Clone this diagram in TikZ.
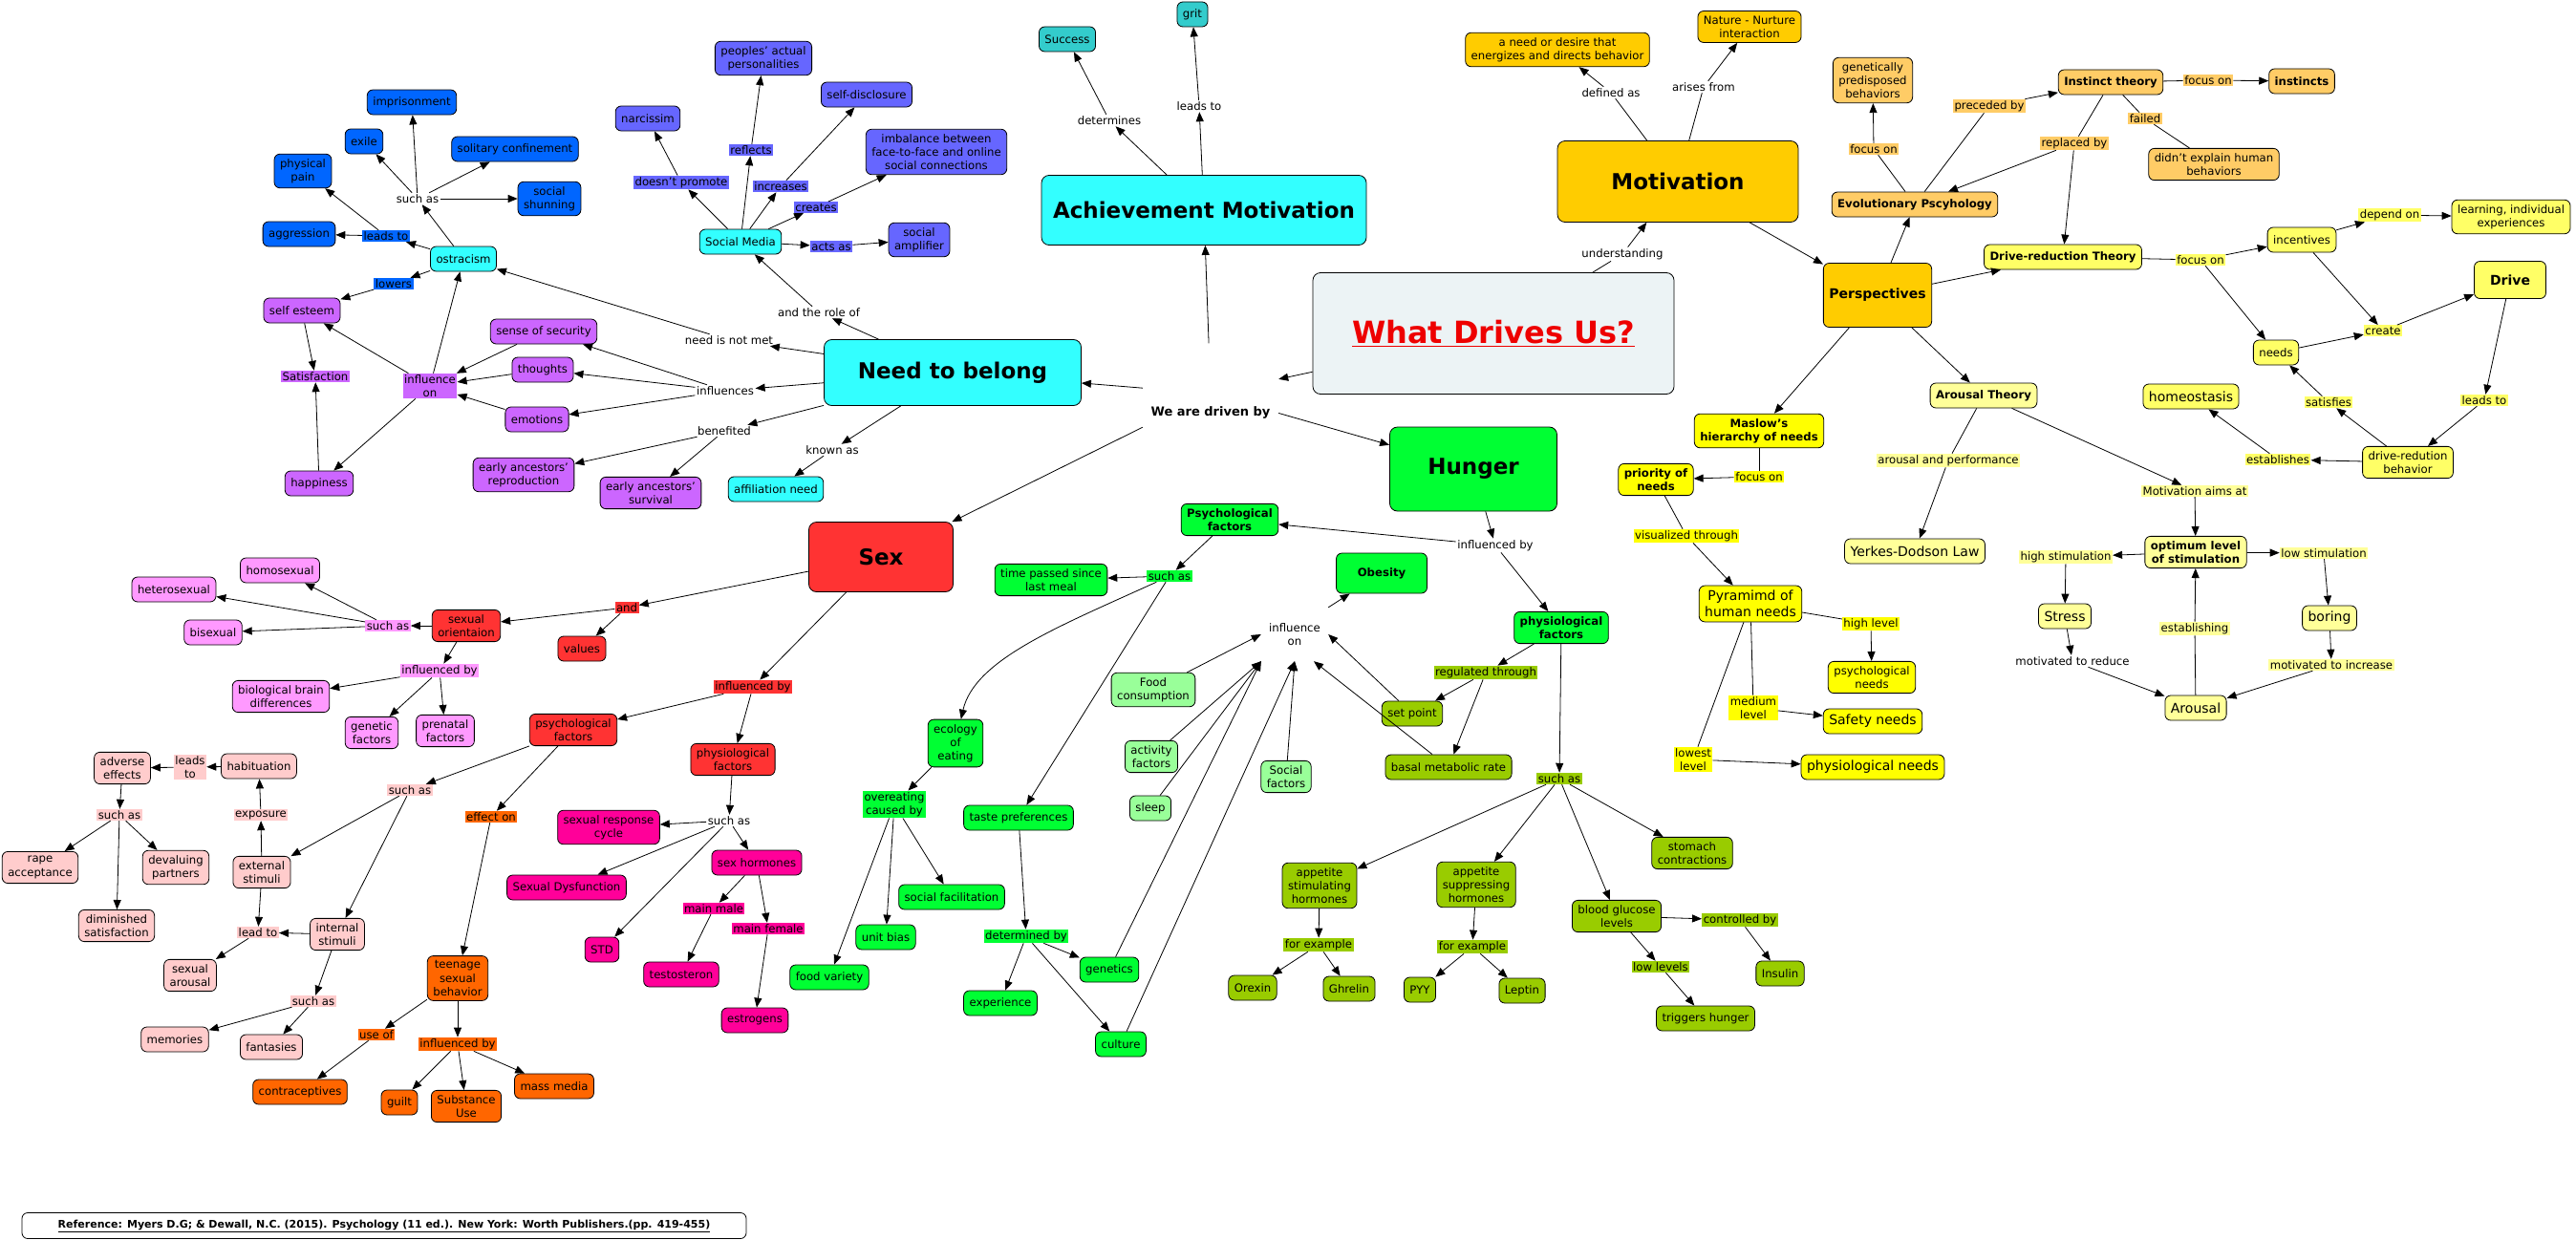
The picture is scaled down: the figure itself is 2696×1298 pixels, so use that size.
\documentclass[tikz,border=0pt]{standalone}
\usepackage{fontspec}
\setmainfont{DejaVu Sans}
\usepackage{tikz}
\usepackage{xcolor}
\usetikzlibrary{arrows.meta}

\definecolor{titlebg}{HTML}{ECF3F5}
\definecolor{titlered}{HTML}{EE0000}
\definecolor{belcyan}{HTML}{33FFFF}
\definecolor{achteal}{HTML}{33CCCC}
\definecolor{ostblue}{HTML}{0066FF}
\definecolor{medblue}{HTML}{6666FF}
\definecolor{belpurple}{HTML}{CC66FF}
\definecolor{motgold}{HTML}{FFCC00}
\definecolor{evoorange}{HTML}{FFCC66}
\definecolor{maslowyel}{HTML}{FFFF00}
\definecolor{drvyel}{HTML}{FFFF66}
\definecolor{arsyel}{HTML}{FFFF99}
\definecolor{hungreen}{HTML}{00FF33}
\definecolor{lightgreen}{HTML}{99FF99}
\definecolor{physolive}{HTML}{99CC00}
\definecolor{sexred}{HTML}{FF3333}
\definecolor{orientpink}{HTML}{FF99FF}
\definecolor{psypink}{HTML}{FFCCCC}
\definecolor{hormag}{HTML}{FF0099}
\definecolor{teenorange}{HTML}{FF6600}

\newcommand{\mapnormal}{\fontsize{11.7}{14.2}\selectfont}
\newcommand{\mapmid}{\fontsize{14}{17}\selectfont}
\newcommand{\maphead}{\fontsize{23}{27}\selectfont}
\newcommand{\maptitle}{\fontsize{32}{38}\selectfont}

\begin{document}
\begin{tikzpicture}[
    x=1pt, y=-1pt,
    concept/.style={
        rectangle,
        draw,
        rounded corners=6pt,
        align=center,
        inner xsep=6pt,
        inner ysep=5pt,
        minimum height=26pt,
        font=\mapnormal,
        line width=0.8pt
    },
    midc/.style={concept, font=\mapmid},
    boldc/.style={concept, font=\mapnormal\bfseries},
    headc/.style={concept, font=\maphead\bfseries, rounded corners=8pt},
    lbl/.style={inner sep=1.5pt, align=center, font=\mapnormal},
    arr/.style={-{Triangle[length=10pt,width=8pt]}, line width=0.8pt},
    ln/.style={line width=0.8pt}
]

\useasboundingbox (0,0) rectangle (2696,1298);

\node[concept, fill=titlebg, minimum width=378pt, minimum height=127pt, font=\maptitle\bfseries, text=titlered, rounded corners=8pt] (title) at (1563,349) {\underline{What Drives Us?}};
\node[lbl, font=\fontsize{13}{15}\selectfont\bfseries, text height=74pt, text depth=28pt, minimum width=142pt, anchor=base] (drivenby) at (1267,435) {We are driven by};

\node[headc, fill=belcyan, minimum width=340pt, minimum height=73pt] (achieve) at (1260,220) {Achievement Motivation};
\node[headc, fill=belcyan, minimum width=269pt, minimum height=69pt] (need) at (997,390) {Need to belong};
\node[headc, fill=hungreen, minimum width=175pt, minimum height=88pt] (hunger) at (1542,491) {Hunger};
\node[headc, fill=sexred, minimum width=151pt, minimum height=73pt] (sex) at (922,583) {Sex};
\node[headc, fill=motgold, minimum width=252pt, minimum height=85pt] (motiv) at (1756,190) {Motivation};

\node[concept, fill=belcyan] (ostra) at (485,271) {ostracism};
\node[concept, fill=belcyan] (socmed) at (775,253) {Social Media};
\node[concept, fill=belcyan] (affil) at (812,512) {affiliation need};
\node[lbl] (roleof) at (857,327) {and the role of};
\node[lbl] (notmet) at (763,356) {need is not met};
\node[lbl] (influences) at (759,409) {influences};
\node[lbl] (benefited) at (758,451) {benefited};
\node[lbl] (knownas) at (871,471) {known as};

\node[concept, fill=belpurple] (selfest) at (316,325) {self esteem};
\node[concept, fill=belpurple] (security) at (569,347) {sense of security};
\node[concept, fill=belpurple] (thoughts) at (568,387) {thoughts};
\node[concept, fill=belpurple] (emotions) at (562,439) {emotions};
\node[concept, fill=belpurple] (happiness) at (334,506) {happiness};
\node[concept, fill=belpurple] (repro) at (548,497) {early ancestors'\\reproduction};
\node[concept, fill=belpurple] (survival) at (681,516) {early ancestors'\\survival};
\node[lbl, fill=belpurple] (satis) at (330,394) {Satisfaction};
\node[lbl, fill=belpurple] (inflon1) at (450,404) {influence\\on};

\node[concept, fill=ostblue] (imprison) at (431,107) {imprisonment};
\node[concept, fill=ostblue] (exile) at (381,148) {exile};
\node[concept, fill=ostblue] (solitary) at (539,156) {solitary confinement};
\node[concept, fill=ostblue] (pain) at (317,179) {physical\\pain};
\node[concept, fill=ostblue] (shunning) at (575,208) {social\\shunning};
\node[concept, fill=ostblue] (aggression) at (313,245) {aggression};
\node[lbl] (suchO1) at (437,208) {such as};
\node[lbl, fill=ostblue] (leadsO) at (404,247) {leads to};
\node[lbl, fill=ostblue] (lowers) at (412,297) {lowers};

\node[concept, fill=medblue] (narc) at (678,124) {narcissim};
\node[concept, fill=medblue] (peoples) at (799,61) {peoples' actual\\personalities};
\node[concept, fill=medblue] (selfdis) at (907,99) {self-disclosure};
\node[concept, fill=medblue] (imbal) at (980,159) {imbalance between\\face-to-face and online\\social connections};
\node[concept, fill=medblue] (amplif) at (962,251) {social\\amplifier};
\node[lbl, fill=medblue] (notprom) at (713,191) {doesn't promote};
\node[lbl, fill=medblue] (reflects) at (786,157) {reflects};
\node[lbl, fill=medblue] (increases) at (817,195) {increases};
\node[lbl, fill=medblue] (creates) at (854,217) {creates};
\node[lbl, fill=medblue] (actsas) at (870,258) {acts as};

\node[concept, fill=achteal] (success) at (1117,41) {Success};
\node[concept, fill=achteal] (grit) at (1248,15) {grit};
\node[lbl] (determines) at (1161,126) {determines};
\node[lbl] (leadsA) at (1255,111) {leads to};

\node[concept, fill=motgold] (defn) at (1630,52) {a need or desire that\\energizes and directs behavior};
\node[concept, fill=motgold] (nature) at (1831,28) {Nature - Nurture\\interaction};
\node[lbl] (definedas) at (1686,97) {defined as};
\node[lbl] (arises) at (1783,91) {arises from};
\node[lbl] (understanding) at (1698,266) {understanding};
\node[concept, fill=motgold, font=\mapmid\bfseries, minimum width=110pt, minimum height=67pt] (persp) at (1965,309) {Perspectives};

\node[boldc, fill=evoorange] (evol) at (2004,214) {Evolutionary Pscyhology};
\node[boldc, fill=evoorange] (instinct) at (2209,86) {Instinct theory};
\node[boldc, fill=evoorange] (instincts) at (2409,85) {instincts};
\node[concept, fill=evoorange] (genet) at (1960,84) {genetically\\predisposed\\behaviors};
\node[concept, fill=evoorange] (didnt) at (2317,172) {didn't explain human\\behaviors};
\node[lbl, fill=evoorange] (focusE) at (1961,156) {focus on};
\node[lbl, fill=evoorange] (preceded) at (2082,111) {preceded by};
\node[lbl, fill=evoorange] (replaced) at (2171,150) {replaced by};
\node[lbl, fill=evoorange] (focusI) at (2311,84) {focus on};
\node[lbl, fill=evoorange] (failed) at (2245,124) {failed};

\node[boldc, fill=drvyel] (drivered) at (2159,269) {Drive-reduction Theory};
\node[concept, fill=drvyel] (incentives) at (2409,251) {incentives};
\node[concept, fill=drvyel] (learning) at (2628,227) {learning, individual\\experiences};
\node[concept, fill=drvyel, font=\mapmid\bfseries, minimum width=75pt, minimum height=39pt] (drive) at (2627,293) {Drive};
\node[concept, fill=drvyel] (needs) at (2382,369) {needs};
\node[midc, fill=drvyel] (homeo) at (2293,415) {homeostasis};
\node[concept, fill=drvyel] (drbeh) at (2520,484) {drive-redution\\behavior};
\node[lbl, fill=drvyel] (focusD) at (2303,272) {focus on};
\node[lbl, fill=drvyel] (dependon) at (2501,225) {depend on};
\node[lbl, fill=drvyel] (create) at (2494,346) {create};
\node[lbl, fill=drvyel] (leadsD) at (2600,419) {leads to};
\node[lbl, fill=drvyel] (satisfies) at (2437,421) {satisfies};
\node[lbl, fill=drvyel] (establishes) at (2384,481) {establishes};

\node[boldc, fill=arsyel] (arousalT) at (2076,414) {Arousal Theory};
\node[midc, fill=arsyel] (yerkes) at (2004,577) {Yerkes-Dodson Law};
\node[boldc, fill=arsyel] (optimum) at (2298,578) {optimum level\\of stimulation};
\node[midc, fill=arsyel] (stress) at (2161,645) {Stress};
\node[midc, fill=arsyel] (boring) at (2438,647) {boring};
\node[midc, fill=arsyel] (arousal) at (2298,741) {Arousal};
\node[lbl, fill=arsyel] (arperf) at (2039,482) {arousal and performance};
\node[lbl, fill=arsyel] (aimsat) at (2297,514) {Motivation aims at};
\node[lbl, fill=arsyel] (highstim) at (2162,583) {high stimulation};
\node[lbl, fill=arsyel] (lowstim) at (2432,579) {low stimulation};
\node[lbl, fill=arsyel] (establishing) at (2297,658) {establishing};
\node[lbl] (reduce) at (2169,692) {motivated to reduce};
\node[lbl, fill=arsyel] (increase) at (2440,696) {motivated to increase};

\node[boldc, fill=maslowyel] (maslow) at (1841,451) {Maslow's\\hierarchy of needs};
\node[boldc, fill=maslowyel] (priority) at (1733,502) {priority of\\needs};
\node[midc, fill=maslowyel] (pyramid) at (1832,632) {Pyramimd of\\human needs};
\node[concept, fill=maslowyel] (psyneeds) at (1959,709) {psychological\\needs};
\node[midc, fill=maslowyel] (safety) at (1960,755) {Safety needs};
\node[midc, fill=maslowyel] (physneeds) at (1960,803) {physiological needs};
\node[lbl, fill=maslowyel] (focusM) at (1841,499) {focus on};
\node[lbl, fill=maslowyel] (visual) at (1765,561) {visualized through};
\node[lbl, fill=maslowyel] (highlev) at (1958,653) {high level};
\node[lbl, fill=maslowyel] (medlev) at (1835,741) {medium\\level};
\node[lbl, fill=maslowyel] (lowlev) at (1772,795) {lowest\\level};

\node[lbl] (inflbyH) at (1565,571) {influenced by};
\node[boldc, fill=hungreen] (psyH) at (1287,544) {Psychological\\factors};
\node[boldc, fill=hungreen] (physH) at (1634,657) {physiological\\factors};
\node[boldc, fill=hungreen, minimum width=95pt, minimum height=42pt] (obesity) at (1446,600) {Obesity};
\node[concept, fill=hungreen] (timepass) at (1100,607) {time passed since\\last meal};
\node[concept, fill=hungreen] (ecology) at (1000,778) {ecology\\of\\eating};
\node[concept, fill=hungreen] (taste) at (1066,856) {taste preferences};
\node[concept, fill=hungreen] (unitbias) at (927,981) {unit bias};
\node[concept, fill=hungreen] (socfac) at (996,939) {social facilitation};
\node[concept, fill=hungreen] (foodvar) at (868,1023) {food variety};
\node[concept, fill=hungreen] (experience) at (1047,1050) {experience};
\node[concept, fill=hungreen] (genetics) at (1161,1015) {genetics};
\node[concept, fill=hungreen] (culture) at (1173,1093) {culture};
\node[lbl, fill=hungreen] (suchPs) at (1224,603) {such as};
\node[lbl, fill=hungreen] (overeat) at (936,842) {overeating\\caused by};
\node[lbl, fill=hungreen] (detby) at (1074,980) {determined by};
\node[concept, fill=lightgreen] (foodcons) at (1207,722) {Food\\consumption};
\node[concept, fill=lightgreen] (activity) at (1205,792) {activity\\factors};
\node[concept, fill=lightgreen] (sleep) at (1204,846) {sleep};
\node[concept, fill=lightgreen] (social) at (1346,813) {Social\\factors};
\node[lbl, minimum width=70pt, minimum height=56pt] (inflon2) at (1355,664) {influence\\on};
\node[lbl, fill=physolive] (regthr) at (1555,704) {regulated through};
\node[concept, fill=physolive] (setpoint) at (1478,747) {set point};
\node[concept, fill=physolive] (basal) at (1516,803) {basal metabolic rate};
\node[lbl, fill=physolive] (suchPh) at (1632,815) {such as};
\node[concept, fill=physolive] (appstim) at (1381,927) {appetite\\stimulating\\hormones};
\node[concept, fill=physolive] (appsup) at (1545,926) {appetite\\suppressing\\hormones};
\node[concept, fill=physolive] (glucose) at (1692,959) {blood glucose\\levels};
\node[concept, fill=physolive] (stomach) at (1771,893) {stomach\\contractions};
\node[lbl, fill=physolive] (forex1) at (1380,989) {for example};
\node[lbl, fill=physolive] (forex2) at (1541,991) {for example};
\node[concept, fill=physolive] (orexin) at (1311,1034) {Orexin};
\node[concept, fill=physolive] (ghrelin) at (1412,1035) {Ghrelin};
\node[concept, fill=physolive] (pyy) at (1486,1036) {PYY};
\node[concept, fill=physolive] (leptin) at (1593,1037) {Leptin};
\node[lbl, fill=physolive] (ctrlby) at (1821,963) {controlled by};
\node[lbl, fill=physolive] (lowlevels) at (1738,1012) {low levels};
\node[concept, fill=physolive] (insulin) at (1863,1019) {Insulin};
\node[concept, fill=physolive] (triggers) at (1785,1066) {triggers hunger};

\node[lbl, fill=sexred] (andS) at (656,636) {and};
\node[lbl, fill=sexred] (inflbyS) at (788,719) {influenced by};
\node[concept, fill=sexred] (orient) at (488,655) {sexual\\orientaion};
\node[concept, fill=sexred] (values) at (609,679) {values};
\node[concept, fill=sexred] (psyS) at (600,764) {psychological\\factors};
\node[concept, fill=sexred] (physS) at (767,795) {physiological\\factors};
\node[lbl, fill=orientpink] (suchOr) at (406,655) {such as};
\node[lbl, fill=orientpink] (inflbyO) at (460,702) {influenced by};
\node[concept, fill=orientpink] (homo) at (293,597) {homosexual};
\node[concept, fill=orientpink] (hetero) at (182,617) {heterosexual};
\node[concept, fill=orientpink] (bi) at (223,662) {bisexual};
\node[concept, fill=orientpink] (brain) at (294,729) {biological brain\\differences};
\node[concept, fill=orientpink] (genfac) at (389,767) {genetic\\factors};
\node[concept, fill=orientpink] (prenatal) at (466,765) {prenatal\\factors};

\node[lbl, fill=psypink] (suchSx) at (429,827) {such as};
\node[lbl, fill=teenorange] (effecton) at (514,855) {effect on};
\node[concept, fill=psypink] (external) at (274,913) {external\\stimuli};
\node[concept, fill=psypink] (internal) at (353,978) {internal\\stimuli};
\node[lbl, fill=psypink] (exposure) at (273,853) {exposure};
\node[concept, fill=psypink] (habit) at (271,802) {habituation};
\node[lbl, fill=psypink] (leadsH) at (199,803) {leads\\to};
\node[concept, fill=psypink] (adverse) at (128,804) {adverse\\effects};
\node[lbl, fill=psypink] (suchA) at (125,853) {such as};
\node[concept, fill=psypink] (rape) at (42,908) {rape\\acceptance};
\node[concept, fill=psypink] (dimin) at (122,969) {diminished\\satisfaction};
\node[concept, fill=psypink] (devalue) at (184,908) {devaluing\\partners};
\node[lbl, fill=psypink] (leadto) at (270,976) {lead to};
\node[concept, fill=psypink] (arousalS) at (199,1021) {sexual\\arousal};
\node[lbl, fill=psypink] (suchI) at (328,1048) {such as};
\node[concept, fill=psypink] (memories) at (183,1088) {memories};
\node[concept, fill=psypink] (fantasies) at (284,1096) {fantasies};

\node[lbl] (suchPS) at (763,859) {such as};
\node[concept, fill=hormag] (response) at (637,866) {sexual response\\cycle};
\node[concept, fill=hormag] (dysf) at (593,929) {Sexual Dysfunction};
\node[concept, fill=hormag] (std) at (630,994) {STD};
\node[concept, fill=hormag] (hormones) at (792,903) {sex hormones};
\node[lbl, fill=hormag] (mainmale) at (747,951) {main male};
\node[lbl, fill=hormag] (mainfem) at (804,972) {main female};
\node[concept, fill=hormag] (testo) at (713,1020) {testosteron};
\node[concept, fill=hormag] (estro) at (790,1068) {estrogens};

\node[concept, fill=teenorange] (teen) at (479,1024) {teenage\\sexual\\behavior};
\node[lbl, fill=teenorange] (useof) at (394,1083) {use of};
\node[lbl, fill=teenorange] (inflbyT) at (479,1093) {influenced by};
\node[concept, fill=teenorange] (contra) at (314,1143) {contraceptives};
\node[concept, fill=teenorange] (guilt) at (418,1154) {guilt};
\node[concept, fill=teenorange] (subst) at (488,1158) {Substance\\Use};
\node[concept, fill=teenorange] (media) at (580,1137) {mass media};

\node[concept, fill=white, font=\fontsize{11}{13}\selectfont\bfseries, minimum width=758pt, minimum height=27pt] (ref) at (402,1283) {\underline{Reference: Myers D.G; \& Dewall, N.C. (2015). Psychology (11 ed.). New York: Worth Publishers.(pp. 419-455)}};

\draw[arr] (title) -- (drivenby);
\draw[arr] (drivenby) -- (need);
\draw[arr] (drivenby) -- (hunger);
\draw[arr] (drivenby) -- (sex);
\draw[arr] (drivenby) -- (achieve);

\draw[arr] (need) -- (roleof);
\draw[arr] (roleof) -- (socmed);
\draw[arr] (need) -- (notmet);
\draw[arr] (notmet) -- (ostra);
\draw[arr] (need) -- (influences);
\draw[arr] (influences) -- (security);
\draw[arr] (influences) -- (thoughts);
\draw[arr] (influences) -- (emotions);
\draw[arr] (need) -- (benefited);
\draw[arr] (benefited) -- (repro);
\draw[arr] (benefited) -- (survival);
\draw[arr] (need) -- (knownas);
\draw[arr] (knownas) -- (affil);

\draw[arr] (ostra) -- (suchO1);
\draw[arr] (suchO1) -- (exile);
\draw[arr] (suchO1) -- (imprison);
\draw[arr] (suchO1) -- (solitary);
\draw[arr] (suchO1) -- (shunning);
\draw[arr] (ostra) -- (leadsO);
\draw[arr] (leadsO) -- (aggression);
\draw[arr] (leadsO) -- (pain);
\draw[arr] (ostra) -- (lowers);
\draw[arr] (lowers) -- (selfest);

\draw[arr] (selfest) -- (satis);
\draw[arr] (happiness) -- (satis);
\draw[arr] (security) -- (inflon1);
\draw[arr] (thoughts) -- (inflon1);
\draw[arr] (emotions) -- (inflon1);
\draw[arr] (inflon1) -- (selfest);
\draw[arr] (inflon1) -- (ostra);
\draw[arr] (inflon1) -- (happiness);

\draw[arr] (socmed) -- (notprom);
\draw[arr] (notprom) -- (narc);
\draw[arr] (socmed) -- (reflects);
\draw[arr] (reflects) -- (peoples);
\draw[arr] (socmed) -- (increases);
\draw[arr] (increases) -- (selfdis);
\draw[arr] (socmed) -- (creates);
\draw[arr] (creates) -- (imbal);
\draw[arr] (socmed) -- (actsas);
\draw[arr] (actsas) -- (amplif);

\draw[arr] (achieve) -- (determines);
\draw[arr] (determines) -- (success);
\draw[arr] (achieve) -- (leadsA);
\draw[arr] (leadsA) -- (grit);

\draw[ln] (title) -- (understanding);
\draw[arr] (understanding) -- (motiv);
\draw[ln] (motiv) -- (definedas);
\draw[arr] (definedas) -- (defn);
\draw[ln] (motiv) -- (arises);
\draw[arr] (arises) -- (nature);
\draw[arr] (motiv) -- (persp);

\draw[arr] (persp) -- (evol);
\draw[arr] (persp) -- (drivered);
\draw[arr] (persp) -- (maslow);
\draw[arr] (persp) -- (arousalT);
\draw[ln] (evol) -- (focusE);
\draw[arr] (focusE) -- (genet);
\draw[ln] (evol) -- (preceded);
\draw[arr] (preceded) -- (instinct);
\draw[ln] (instinct) -- (replaced);
\draw[arr] (replaced) -- (evol);
\draw[arr] (replaced) -- (drivered);
\draw[ln] (instinct) -- (focusI);
\draw[arr] (focusI) -- (instincts);
\draw[ln] (instinct) -- (failed);
\draw[ln] (failed) -- (didnt);

\draw[ln] (drivered) -- (focusD);
\draw[arr] (focusD) -- (incentives);
\draw[arr] (focusD) -- (needs);
\draw[arr] (incentives) -- (dependon);
\draw[arr] (dependon) -- (learning);
\draw[arr] (incentives) -- (create);
\draw[arr] (needs) -- (create);
\draw[arr] (create) -- (drive);
\draw[arr] (drive) -- (leadsD);
\draw[arr] (leadsD) -- (drbeh);
\draw[arr] (drbeh) -- (satisfies);
\draw[arr] (satisfies) -- (needs);
\draw[arr] (drbeh) -- (establishes);
\draw[arr] (establishes) -- (homeo);

\draw[ln] (arousalT) -- (arperf);
\draw[arr] (arperf) -- (yerkes);
\draw[arr] (arousalT) -- (aimsat);
\draw[arr] (aimsat) -- (optimum);
\draw[arr] (optimum) -- (highstim);
\draw[arr] (highstim) -- (stress);
\draw[arr] (optimum) -- (lowstim);
\draw[arr] (lowstim) -- (boring);
\draw[arr] (stress) -- (reduce);
\draw[arr] (reduce) -- (arousal);
\draw[arr] (boring) -- (increase);
\draw[arr] (increase) -- (arousal);
\draw[ln] (arousal) -- (establishing);
\draw[arr] (establishing) -- (optimum);

\draw[ln] (maslow) -- (focusM);
\draw[arr] (focusM) -- (priority);
\draw[ln] (priority) -- (visual);
\draw[arr] (visual) -- (pyramid);
\draw[ln] (pyramid) -- (highlev);
\draw[arr] (highlev) -- (psyneeds);
\draw[ln] (pyramid) -- (medlev);
\draw[arr] (medlev) -- (safety);
\draw[ln] (pyramid) -- (lowlev);
\draw[arr] (lowlev) -- (physneeds);

\draw[arr] (hunger) -- (inflbyH);
\draw[arr] (inflbyH) -- (psyH);
\draw[arr] (inflbyH) -- (physH);
\draw[arr] (psyH) -- (suchPs);
\draw[arr] (suchPs) -- (timepass);
\draw[arr] (suchPs) .. controls (1110,655) and (1020,690) .. (ecology);
\draw[arr] (suchPs) -- (taste);
\draw[arr] (ecology) -- (overeat);
\draw[arr] (overeat) -- (unitbias);
\draw[arr] (overeat) -- (socfac);
\draw[arr] (overeat) -- (foodvar);
\draw[arr] (taste) -- (detby);
\draw[arr] (detby) -- (experience);
\draw[arr] (detby) -- (genetics);
\draw[arr] (detby) -- (culture);
\draw[arr] (foodcons) -- (inflon2.west);
\draw[arr] (activity) -- (inflon2.south west);
\draw[arr] (sleep) -- (inflon2.south west);
\draw[arr] (genetics) -- (inflon2.south west);
\draw[arr] (culture) -- (inflon2.south);
\draw[arr] (social) -- (inflon2.south);
\draw[arr] (basal) -- ([xshift=20pt]inflon2.south);
\draw[arr] (setpoint) -- (inflon2.east);
\draw[arr] (inflon2.north east) -- (obesity);
\draw[arr] (physH) -- (regthr);
\draw[arr] (regthr) -- (setpoint);
\draw[arr] (regthr) -- (basal);
\draw[arr] (physH) -- (suchPh);
\draw[arr] (suchPh) -- (appstim);
\draw[arr] (suchPh) -- (appsup);
\draw[arr] (suchPh) -- (glucose);
\draw[arr] (suchPh) -- (stomach);
\draw[arr] (appstim) -- (forex1);
\draw[arr] (forex1) -- (orexin);
\draw[arr] (forex1) -- (ghrelin);
\draw[arr] (appsup) -- (forex2);
\draw[arr] (forex2) -- (pyy);
\draw[arr] (forex2) -- (leptin);
\draw[arr] (glucose) -- (ctrlby);
\draw[arr] (ctrlby) -- (insulin);
\draw[arr] (glucose) -- (lowlevels);
\draw[arr] (lowlevels) -- (triggers);

\draw[arr] (sex) -- (andS);
\draw[arr] (andS) -- (orient);
\draw[arr] (andS) -- (values);
\draw[arr] (sex) -- (inflbyS);
\draw[arr] (inflbyS) -- (psyS);
\draw[arr] (inflbyS) -- (physS);
\draw[arr] (orient) -- (suchOr);
\draw[arr] (suchOr) -- (homo);
\draw[arr] (suchOr) -- (hetero);
\draw[arr] (suchOr) -- (bi);
\draw[arr] (orient) -- (inflbyO);
\draw[arr] (inflbyO) -- (brain);
\draw[arr] (inflbyO) -- (genfac);
\draw[arr] (inflbyO) -- (prenatal);
\draw[arr] (psyS) -- (suchSx);
\draw[arr] (suchSx) -- (external);
\draw[arr] (suchSx) -- (internal);
\draw[arr] (psyS) -- (effecton);
\draw[arr] (effecton) -- (teen);
\draw[arr] (external) -- (exposure);
\draw[arr] (exposure) -- (habit);
\draw[arr] (habit) -- (leadsH);
\draw[arr] (leadsH) -- (adverse);
\draw[arr] (adverse) -- (suchA);
\draw[arr] (suchA) -- (rape);
\draw[arr] (suchA) -- (dimin);
\draw[arr] (suchA) -- (devalue);
\draw[arr] (external) -- (leadto);
\draw[arr] (internal) -- (leadto);
\draw[arr] (leadto) -- (arousalS);
\draw[arr] (internal) -- (suchI);
\draw[arr] (suchI) -- (memories);
\draw[arr] (suchI) -- (fantasies);
\draw[arr] (physS) -- (suchPS);
\draw[arr] (suchPS) -- (response);
\draw[arr] (suchPS) -- (dysf);
\draw[arr] (suchPS) -- (std);
\draw[arr] (suchPS) -- (hormones);
\draw[arr] (hormones) -- (mainmale);
\draw[arr] (mainmale) -- (testo);
\draw[arr] (hormones) -- (mainfem);
\draw[arr] (mainfem) -- (estro);
\draw[arr] (teen) -- (useof);
\draw[arr] (useof) -- (contra);
\draw[arr] (teen) -- (inflbyT);
\draw[arr] (inflbyT) -- (guilt);
\draw[arr] (inflbyT) -- (subst);
\draw[arr] (inflbyT) -- (media);

\end{tikzpicture}
\end{document}
